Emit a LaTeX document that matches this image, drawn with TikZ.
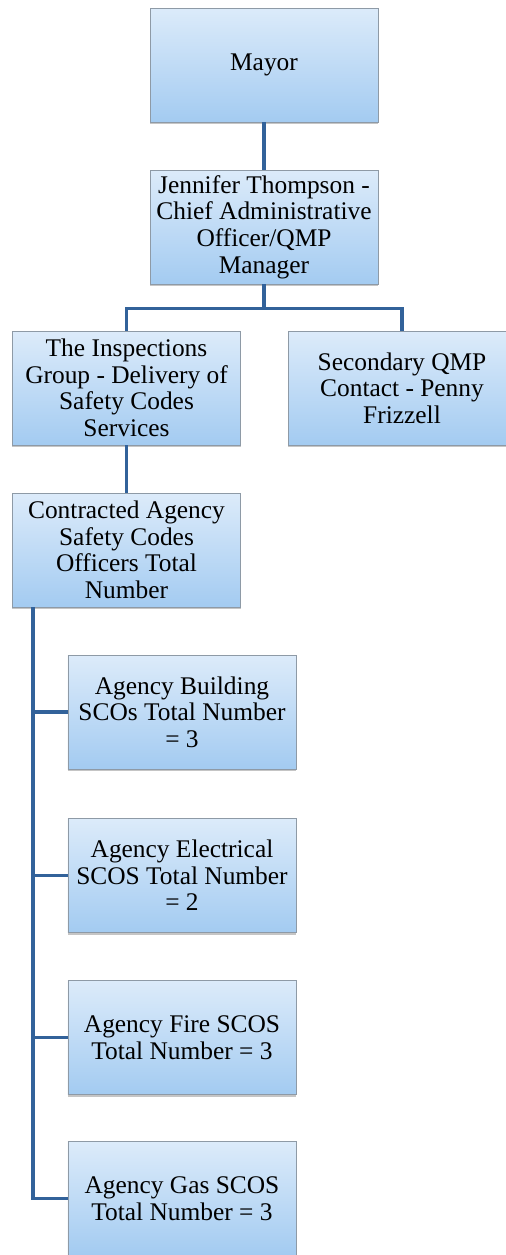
\documentclass[tikz,border=0pt]{standalone}
\usepackage{fontspec}
\setmainfont{Liberation Serif}
\usetikzlibrary{calc,shadows}
\definecolor{boxtop}{HTML}{DCEBFA}
\definecolor{boxbot}{HTML}{A3CBF1}
\definecolor{boxedge}{HTML}{8E9AA6}
\definecolor{linkblue}{HTML}{32629A}
\tikzset{
  orgbox/.style={rectangle, draw=boxedge, line width=0.8bp, top color=boxtop, bottom color=boxbot,
    minimum width=228bp, minimum height=114bp, inner sep=1bp, align=center,
    font=\fontsize{25.5}{26.7}\selectfont,
    drop shadow={shadow xshift=0bp, shadow yshift=-2bp, fill=black!45, opacity=0.5}},
  link/.style={draw=linkblue, line width=3.6bp}
}
\begin{document}
\begin{tikzpicture}[x=1bp,y=-1bp]
\useasboundingbox (0,0) rectangle (506,1255);
\node[orgbox] (mayor) at (264,65) {Mayor};
\node[orgbox] (jen) at (264,227) {Jennifer Thompson -\\Chief Administrative\\Officer/QMP\\Manager};
\node[orgbox] (insp) at (126.5,388) {The Inspections\\Group - Delivery of\\Safety Codes\\Services};
\node[orgbox] (sec) at (402,388) {Secondary QMP\\Contact - Penny\\Frizzell};
\node[orgbox] (contr) at (126.5,550) {Contracted Agency\\Safety Codes\\Officers Total\\Number};
\node[orgbox] (bld) at (182,712) {Agency Building\\SCOs Total Number\\= 3};
\node[orgbox] (elec) at (182,875.5) {Agency Electrical\\SCOS Total Number\\= 2};
\node[orgbox] (fire) at (182,1037.5) {Agency Fire SCOS\\Total Number = 3};
\node[orgbox] (gas) at (182,1198.5) {Agency Gas SCOS\\Total Number = 3};
\coordinate (bar) at ($(jen.south)+(0,24)$);
\coordinate (trunk) at ($(contr.south west)+(21,0)$);
\path[link] (mayor.south) -- (jen.north);
\path[link] (jen.south) -- (bar) -| (insp.north);
\path[link] (bar) -| (sec.north);
\path[link] (insp.south) -- (contr.north);
\path[link] (trunk) |- (bld.west);
\path[link] (trunk) |- (elec.west);
\path[link] (trunk) |- (fire.west);
\path[link] (trunk) |- (gas.west);
\end{tikzpicture}
\end{document}
